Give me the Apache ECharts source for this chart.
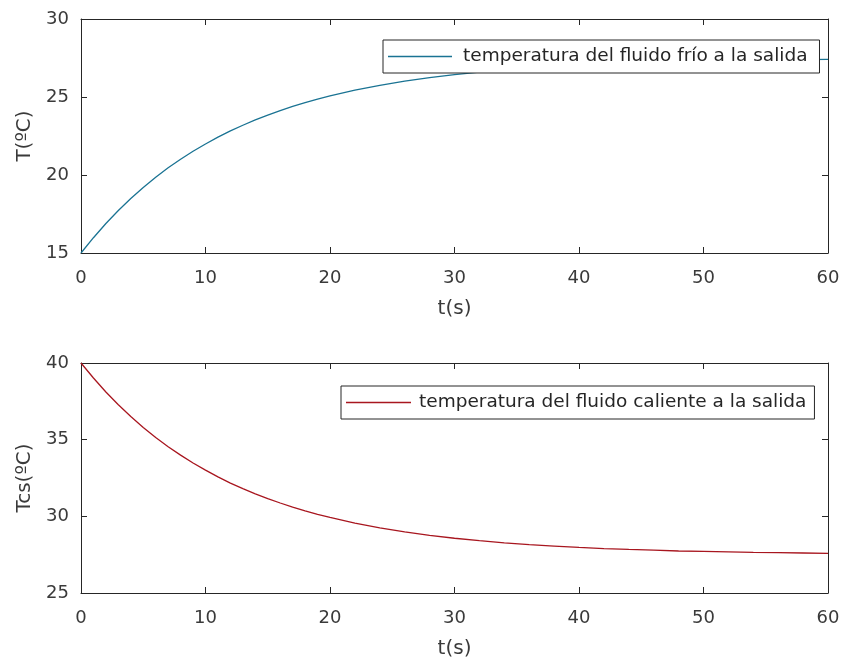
<!DOCTYPE html>
<html><head><meta charset="utf-8">
<script src="https://cdn.jsdelivr.net/npm/echarts@6/dist/echarts.min.js"></script>
<style>html,body{margin:0;padding:0;background:#fff}#c{width:843px;height:670px}</style>
</head><body><div id="c"></div>
<script>
// time samples (s)
const tValues = [0,1,2,3,4,5,6,7,8,9,10,11,12,13,14,15,16,17,18,19,20,22,24,26,28,30,32,34,36,38,40,42,44,46,48,50,52,54,56,58,60];
// cold fluid outlet temperature (°C)
const coldOut = [15.0,15.98,16.89,17.72,18.49,19.20,19.86,20.46,21.01,21.52,21.99,22.43,22.83,23.19,23.53,23.84,24.13,24.40,24.64,24.87,25.07,25.44,25.75,26.02,26.24,26.43,26.59,26.73,26.85,26.94,27.03,27.10,27.16,27.21,27.26,27.29,27.32,27.35,27.37,27.39,27.41];
// hot fluid outlet temperature (°C)
const hotOut = [40.0,39.02,38.11,37.28,36.51,35.80,35.14,34.54,33.99,33.48,33.01,32.57,32.17,31.81,31.47,31.16,30.87,30.60,30.36,30.13,29.93,29.56,29.25,28.98,28.76,28.57,28.41,28.27,28.15,28.06,27.97,27.90,27.84,27.79,27.74,27.71,27.68,27.65,27.63,27.61,27.59];
const xTicks = [0,10,20,30,40,50,60];
const yTicksTop = [15,20,25,30];
const yTicksBottom = [25,30,35,40];
const nameCold = 'temperatura del fluido frío a la salida';
const nameHot = 'temperatura del fluido caliente a la salida';

const FONT = "'DejaVu Sans', 'Liberation Sans', Arial, sans-serif";
const AX = '#262626';
const TXT = '#3a3a3a';

function xAx(grid, pos, labels) {
  return {
    type: 'value', gridIndex: grid, position: pos, min: 0, max: 60, interval: 10,
    axisLine: {show: true, onZero: false, lineStyle: {color: AX, width: 1}},
    axisTick: {show: true, inside: true, length: 6, lineStyle: {color: AX}},
    axisLabel: {show: labels, color: TXT, fontSize: 18, fontFamily: FONT, margin: 16},
    splitLine: {show: false},
    name: labels ? 't(s)' : '', nameLocation: 'middle', nameGap: 46,
    nameTextStyle: {color: TXT, fontSize: 20, fontFamily: FONT}
  };
}
function yAx(grid, pos, labels, min, max, name) {
  return {
    type: 'value', gridIndex: grid, position: pos, min: min, max: max, interval: 5,
    axisLine: {show: true, onZero: false, lineStyle: {color: AX, width: 1}},
    axisTick: {show: true, inside: true, length: 6, lineStyle: {color: AX}},
    axisLabel: {show: labels, color: TXT, fontSize: 18, fontFamily: FONT, margin: 12},
    splitLine: {show: false},
    name: labels ? name : '', nameLocation: 'middle', nameGap: 44,
    nameTextStyle: {color: TXT, fontSize: 20, fontFamily: FONT}
  };
}

const chart = echarts.init(document.getElementById('c'));
chart.setOption({
  backgroundColor: '#fff',
  animation: false,
  grid: [
    {left: 81, right: 15, top: 19, height: 234},
    {left: 81, right: 15, top: 363, height: 230}
  ],
  xAxis: [xAx(0, 'bottom', true), xAx(0, 'top', false), xAx(1, 'bottom', true), xAx(1, 'top', false)],
  yAxis: [yAx(0, 'left', true, 15, 30, 'T(ºC)'), yAx(0, 'right', false, 15, 30, ''),
          yAx(1, 'left', true, 25, 40, 'Tcs(ºC)'), yAx(1, 'right', false, 25, 40, '')],
  legend: [
    {data: [{name: nameCold, icon: 'rect'}], left: 383, top: 40,
     itemWidth: 64, itemHeight: 1.5, padding: [7, 12, 7, 5],
     borderColor: '#262626', borderWidth: 1, backgroundColor: '#fff',
     textStyle: {color: '#262626', fontSize: 18.5, fontFamily: FONT, padding: [0, 0, 0, 6]}},
    {data: [{name: nameHot, icon: 'rect'}], left: 341, top: 386,
     itemWidth: 65, itemHeight: 1.5, padding: [7, 8, 7, 5],
     borderColor: '#262626', borderWidth: 1, backgroundColor: '#fff',
     textStyle: {color: '#262626', fontSize: 18.5, fontFamily: FONT, padding: [0, 0, 0, 3]}}
  ],
  series: [
    {name: nameCold, type: 'line', xAxisIndex: 0, yAxisIndex: 0, showSymbol: false,
     data: tValues.map((t, i) => [t, coldOut[i]]), lineStyle: {color: '#1a7393', width: 1.3},
     itemStyle: {color: '#1a7393'}},
    {name: nameHot, type: 'line', xAxisIndex: 2, yAxisIndex: 2, showSymbol: false,
     data: tValues.map((t, i) => [t, hotOut[i]]), lineStyle: {color: '#a8161f', width: 1.3},
     itemStyle: {color: '#a8161f'}}
  ]
});
</script>
</body></html>
